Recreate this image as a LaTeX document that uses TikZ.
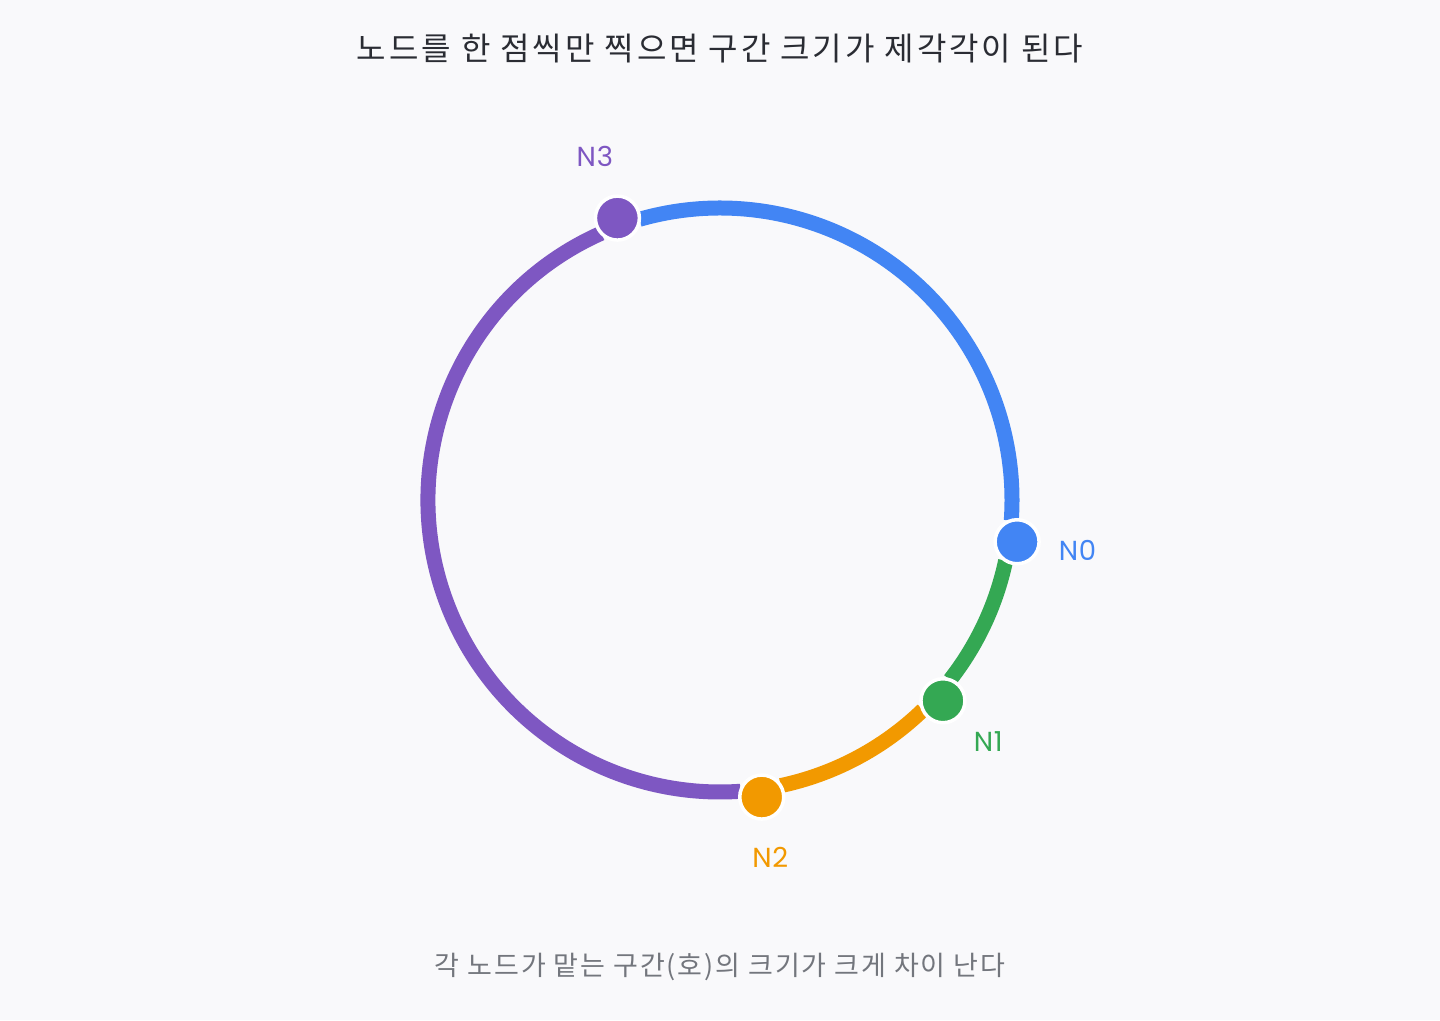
\documentclass[tikz,border=0pt]{standalone}
\usepackage{fontspec}
\setmainfont{Noto Sans CJK KR}
\newfontfamily\titlefont[LetterSpace=9.0]{Noto Sans CJK KR}
\newfontfamily\subfont[LetterSpace=7.0]{Noto Sans CJK KR}
\newfontfamily\labelfont[LetterSpace=3.0]{Poppins}
\usetikzlibrary{calc}
\definecolor{bgc}{HTML}{F9F9FB}
\definecolor{cblue}{HTML}{4285F4}
\definecolor{cgreen}{HTML}{34A853}
\definecolor{corange}{HTML}{F29900}
\definecolor{cpurple}{HTML}{7E57C2}
\definecolor{ctitle}{HTML}{2A2C33}
\definecolor{csub}{HTML}{73767D}
\begin{document}
\begin{tikzpicture}[x=1pt,y=1pt,
  ringarc/.style={line width=15pt,line cap=butt},
  ringnode/.style={circle,fill=#1,draw=white,line width=3.5pt,minimum size=44pt,inner sep=0pt},
  ringlabel/.style={text=#1,font=\labelfont\fontsize{27.5}{32}\selectfont,inner sep=0pt},
  titletext/.style={text=ctitle,font=\titlefont\fontsize{32}{38}\selectfont,inner sep=0pt},
  subtext/.style={text=csub,font=\subfont\fontsize{27}{32}\selectfont,inner sep=0pt}]
\fill[bgc] (0,0) rectangle (1440,1020);
\useasboundingbox (0,0) rectangle (1440,1020);
\coordinate (c) at (720,520);
% arcs
\draw[ringarc,cblue] ($(c)+(-4:292pt)$) arc[start angle=-4,end angle=106,radius=292pt];
\draw[ringarc,cpurple] ($(c)+(114:292pt)$) arc[start angle=114,end angle=274,radius=292pt];
\draw[ringarc,corange] ($(c)+(-78:292pt)$) arc[start angle=-78,end angle=-46,radius=292pt];
\draw[ringarc,cgreen] ($(c)+(-38:292pt)$) arc[start angle=-38,end angle=-12,radius=292pt];
% nodes
\node[ringnode=cblue] (n0) at ($(c)+(-8:300pt)$) {};
\node[ringnode=cgreen] (n1) at ($(c)+(-42:300pt)$) {};
\node[ringnode=corange] (n2) at ($(c)+(-82:300pt)$) {};
\node[ringnode=cpurple] (n3) at ($(c)+(110:300pt)$) {};
% labels
\node[ringlabel=cblue] (l0) at ($(c)+(-8:361pt)$) {N0};
\node[ringlabel=cgreen] (l1) at ($(c)+(-42:361pt)$) {N1};
\node[ringlabel=corange] (l2) at ($(c)+(-82:361pt)$) {N2};
\node[ringlabel=cpurple] (l3) at ($(c)+(110:366pt)$) {N3};
% texts
\node[titletext] (title) at (720,971) {노드를 한 점씩만 찍으면 구간 크기가 제각각이 된다};
\node[subtext] (sub) at (720,53) {각 노드가 맡는 구간(호)의 크기가 크게 차이 난다};
\end{tikzpicture}
\end{document}
